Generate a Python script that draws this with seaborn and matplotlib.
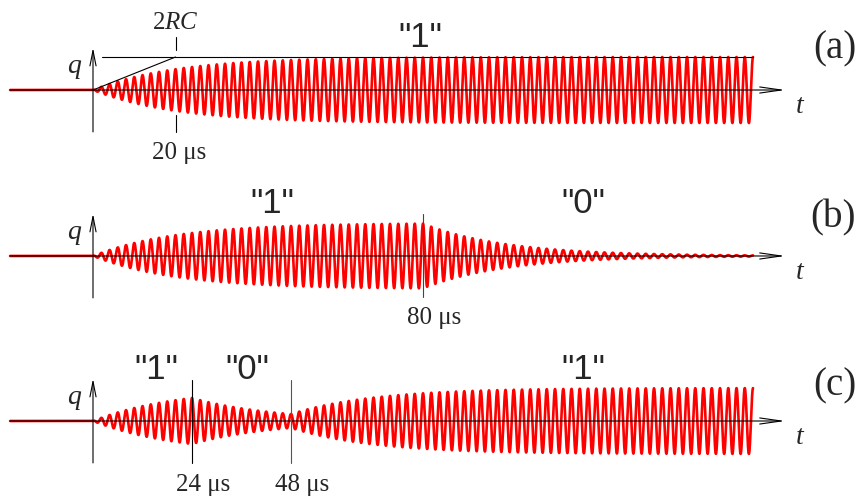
import numpy as np
import pandas as pd
import matplotlib
matplotlib.use("Agg")
import matplotlib.pyplot as plt
import seaborn as sns

# --- signal parameters -------------------------------------------------------
TAU_US = 20.0          # ring-up / ring-down time constant (2RC)
PERIOD_US = 2.0        # carrier period
T_END_US = 160.0       # end of the transmitted burst
T_START_US = -20.1     # idle line drawn before the burst

# bit sequences: switching times (us) and the bit sent from that time on
switch_a = [0.0]
bits_a = [1]
switch_b = [0.0, 80.0]
bits_b = [1, 0]
switch_c = [0.0, 24.0, 48.0]
bits_c = [1, 0, 1]

# time labels drawn under the switching marks
marks_a = [20]
marks_b = [80]
marks_c = [24, 48]

panel_names = ["(a)", "(b)", "(c)"]


def envelope(t, switches, bits, tau):
    """RC-type amplitude: relaxes exponentially toward each new bit value."""
    amp = np.zeros_like(t)
    a0 = 0.0
    for i, (ts, b) in enumerate(zip(switches, bits)):
        te = switches[i + 1] if i + 1 < len(switches) else np.inf
        sel = (t >= ts) & (t < te) if np.isfinite(te) else (t >= ts)
        amp[sel] = b + (a0 - b) * np.exp(-(t[sel] - ts) / tau)
        if np.isfinite(te):
            a0 = b + (a0 - b) * np.exp(-(te - ts) / tau)
    return amp


def waveform(switches, bits):
    t = np.linspace(0.0, T_END_US, 16001)
    q = envelope(t, switches, bits, TAU_US) * np.cos(2 * np.pi * t / PERIOD_US)
    t = np.concatenate([[T_START_US], t])
    q = np.concatenate([[0.0], q])
    return pd.DataFrame({"t": t, "q": q})


sns.set_style("white")
plt.rcParams["mathtext.fontset"] = "custom"
plt.rcParams["mathtext.rm"] = "Liberation Serif"
plt.rcParams["mathtext.it"] = "Liberation Serif:italic"

fig = plt.figure(figsize=(8.58, 4.99), dpi=100)

# layout: figure bands (bottom, height) and y-limits for each panel
bands = [(0.6693, 0.3307), (0.3387, 0.3307), (0.0, 0.3387)]
ylims = [(-2.2727, 2.7273), (-2.2424, 2.7576), (-2.3636, 2.7576)]
XLIM = (-22.545, 185.45)

serif = "Liberation Serif"
sans = "Liberation Sans"
AX_LW = 0.8

panels = [
    (switch_a, bits_a, marks_a),
    (switch_b, bits_b, marks_b),
    (switch_c, bits_c, marks_c),
]

axes = []
for k, ((sw, bt, mk), (b0, h), yl) in enumerate(zip(panels, bands, ylims)):
    ax = fig.add_axes([0.0, b0, 1.0, h])
    ax.set_xlim(*XLIM)
    ax.set_ylim(*yl)
    ax.axis("off")
    axes.append(ax)

    df = waveform(sw, bt)
    sns.lineplot(data=df, x="t", y="q", ax=ax, color="#ff0000", lw=1.9,
                 estimator=None, sort=False, zorder=2)

    # time axis with open arrow head
    ax.annotate("", xy=(167.8, 0), xytext=(T_START_US, 0),
                arrowprops=dict(arrowstyle="->,head_length=1.55,head_width=0.22",
                                lw=AX_LW, color="black", shrinkA=0, shrinkB=0),
                zorder=3)
    # charge axis
    ax.annotate("", xy=(0, 1.28), xytext=(0, -1.27),
                arrowprops=dict(arrowstyle="->,head_length=1.1,head_width=0.22",
                                lw=AX_LW, color="black", shrinkA=0, shrinkB=0),
                zorder=3)
    ax.text(-4.4, 0.70, "$q$", fontsize=20, ha="center", va="center")
    ax.text(171.4, -0.45, "$t$", fontsize=20, ha="center", va="center")
    ax.text(185.0, [1.24, 1.15, 1.06][k], panel_names[k], fontsize=28,
            family=serif, ha="right", va="center")

ax_a, ax_b, ax_c = axes

# (a): final amplitude level, tangent at the start, and the 2RC mark
ax_a.plot([2.2, T_END_US], [1, 1], color="black", lw=AX_LW, zorder=3)
ax_a.plot([0, TAU_US], [0, 1], color="black", lw=AX_LW, zorder=3)
ax_a.plot([marks_a[0]] * 2, [1.21, 1.61], color="black", lw=AX_LW)
ax_a.plot([marks_a[0]] * 2, [-0.76, -1.27], color="black", lw=AX_LW)
ax_a.text(marks_a[0], 2.06, "$2RC$", fontsize=18, ha="center", va="center")
ax_a.text(marks_a[0] + 0.9, -1.91, f"{marks_a[0]} μs", fontsize=18,
          family=serif, ha="center", va="center")
ax_a.text(79.3, 1.58, '"1"', fontsize=25, family=sans, ha="center", va="center")

# (b): bit boundary at 80 us
ax_b.plot([80, 80], [1.27, -1.24], color="#444444", lw=AX_LW, zorder=3)
ax_b.text(82.7, -1.88, f"{marks_b[0]} μs", fontsize=18, family=serif,
          ha="center", va="center")
ax_b.text(43.4, 1.58, '"1"', fontsize=25, family=sans, ha="center", va="center")
ax_b.text(118.8, 1.58, '"0"', fontsize=25, family=sans, ha="center", va="center")

# (c): bit boundaries at 24 us and 48 us
for m, c in zip(marks_c, ["black", "#555555"]):
    ax_c.plot([m, m], [1.24, -1.27], color=c, lw=AX_LW, zorder=3)
    ax_c.text(m + 2.7, -1.94, f"{m} μs", fontsize=18, family=serif,
              ha="center", va="center")
for x, s in zip([15.3, 37.3, 118.8], ['"1"', '"0"', '"1"']):
    ax_c.text(x, 1.55, s, fontsize=25, family=sans, ha="center", va="center")

fig.savefig("out.png", dpi=100)
